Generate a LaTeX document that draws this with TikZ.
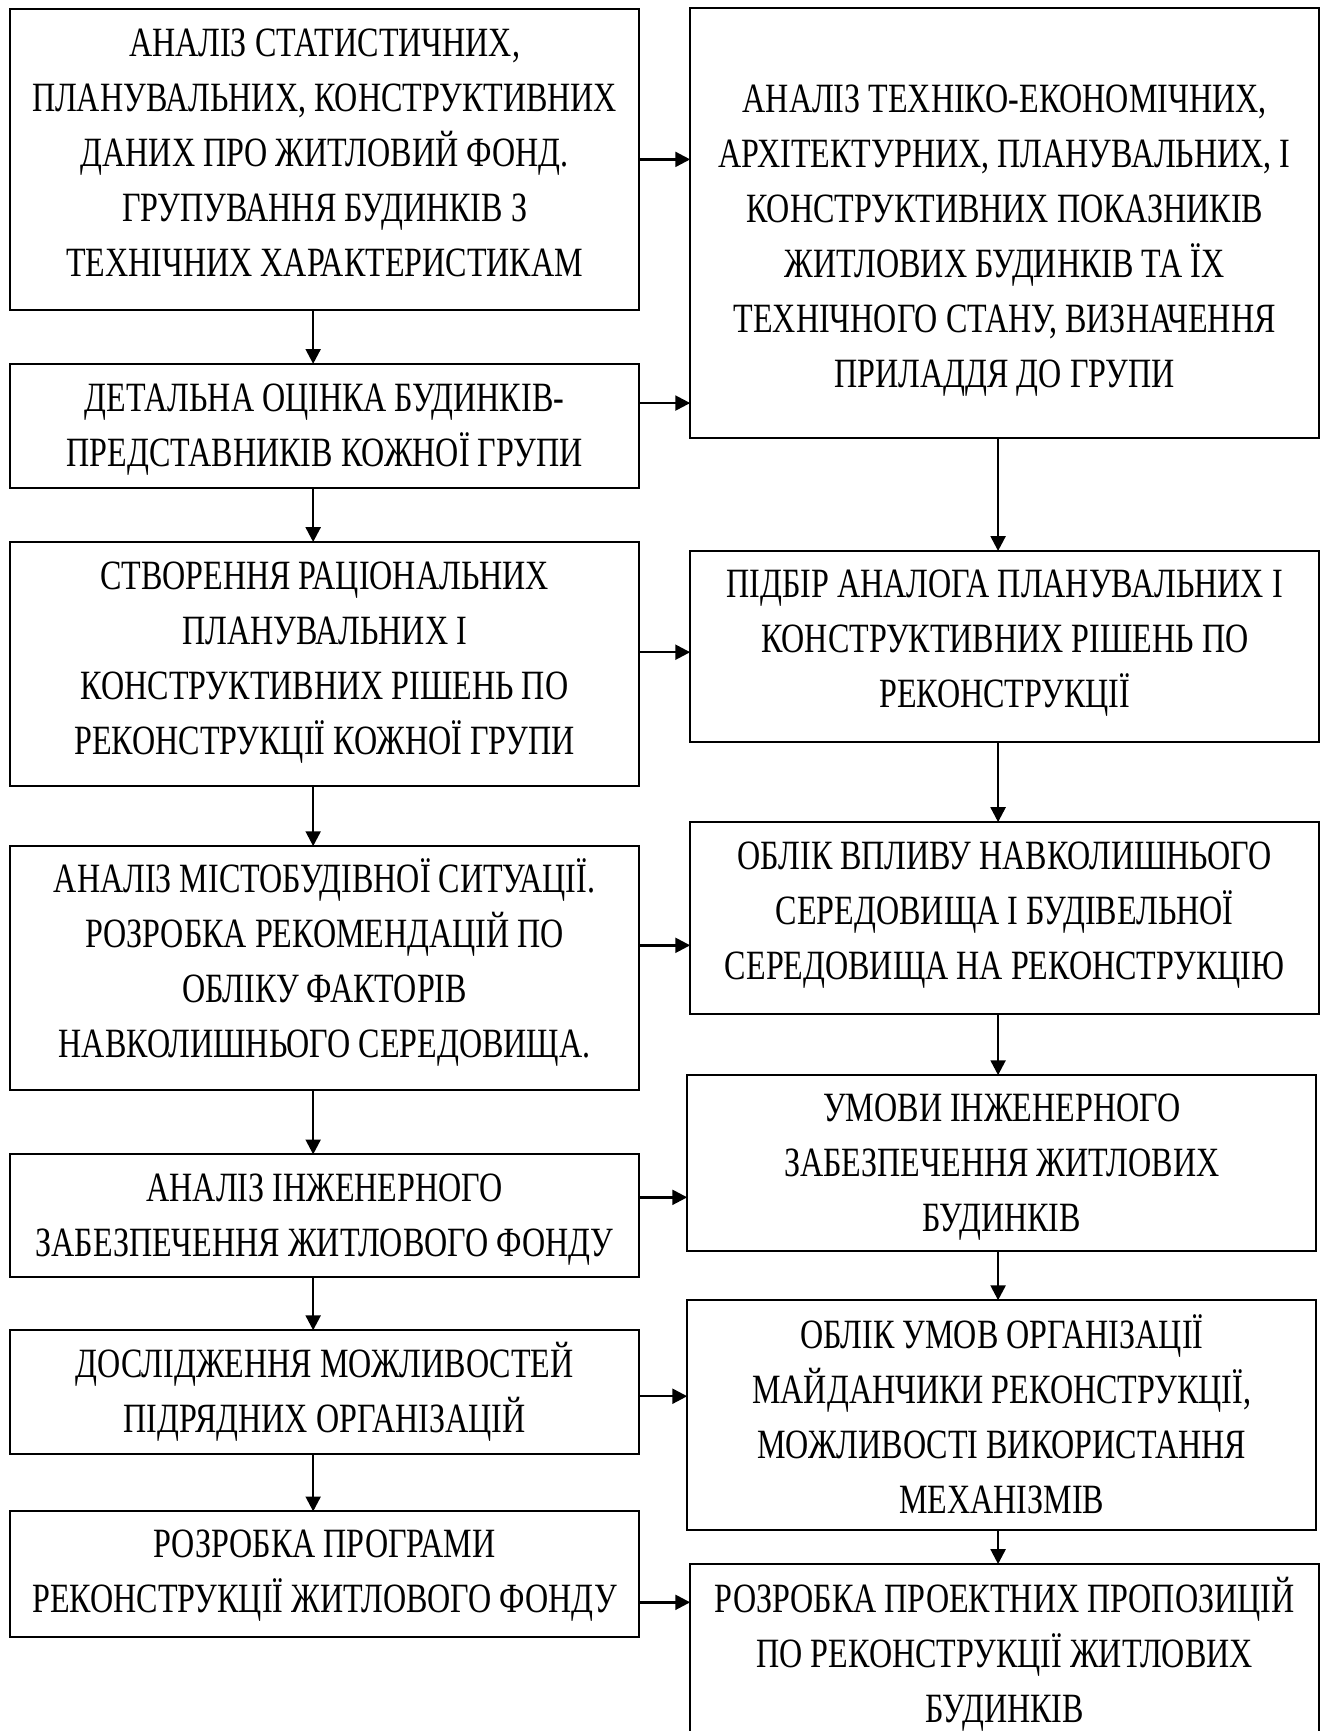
\documentclass[tikz,border=0pt]{standalone}
\usepackage{fontspec}
\setmainfont{Liberation Serif}[FakeStretch=0.77]
\usetikzlibrary{arrows.meta, positioning}
\newcommand\boxlift{0pt}
\newcommand\boxsink{0pt}

\begin{document}
\begin{tikzpicture}[node distance=24pt, >={Triangle[length=6.5pt,width=6.5pt]}]
    \tikzstyle{block} = [draw, line width=0.8pt, rectangle, text width=270pt, inner xsep=2.35pt, inner ysep=0pt, outer sep=0pt, align=flush center, font=\fontsize{18.2}{24}\selectfont, execute at begin node={\spaceskip=3.5pt\relax\rule[-7.2pt]{0pt}{\dimexpr24pt+\boxsink\relax}}, execute at end node={\strut\endgraf\vspace*{\boxlift}}]
    \tikzstyle{link} = [->, line width=1.1pt]
    \tikzset{lift/.code={\def\boxlift{#1}}, sink/.code={\def\boxsink{#1}}}

    \useasboundingbox (0,0) rectangle (579.9pt,-755.9pt);

    \node [block, anchor=north west, minimum height=131.4pt, lift=3.2pt] (l1) at (4.4pt,-3.9pt) {АНАЛІЗ СТАТИСТИЧНИХ,\\ ПЛАНУВАЛЬНИХ, КОНСТРУКТИВНИХ\\ ДАНИХ ПРО ЖИТЛОВИЙ ФОНД.\\ ГРУПУВАННЯ БУДИНКІВ З\\ ТЕХНІЧНИХ ХАРАКТЕРИСТИКАМ};
    \node [block, below=23.6pt of l1, minimum height=54.2pt, sink=2.2pt] (l2) {ДЕТАЛЬНА ОЦІНКА БУДИНКІВ-\\ ПРЕДСТАВНИКІВ КОЖНОЇ ГРУПИ};
    \node [block, below=23.6pt of l2, minimum height=106.6pt, lift=2.4pt] (l3) {СТВОРЕННЯ РАЦІОНАЛЬНИХ\\ ПЛАНУВАЛЬНИХ І\\ КОНСТРУКТИВНИХ РІШЕНЬ ПО\\ РЕКОНСТРУКЦІЇ КОЖНОЇ ГРУПИ};
    \node [block, below=26.2pt of l3, minimum height=106.6pt, lift=3.4pt] (l4) {АНАЛІЗ МІСТОБУДІВНОЇ СИТУАЦІЇ.\\ РОЗРОБКА РЕКОМЕНДАЦІЙ ПО\\ ОБЛІКУ ФАКТОРІВ\\ НАВКОЛИШНЬОГО СЕРЕДОВИЩА.};
    \node [block, below=28pt of l4, minimum height=53.7pt, sink=1.6pt] (l5) {АНАЛІЗ ІНЖЕНЕРНОГО\\ ЗАБЕЗПЕЧЕННЯ ЖИТЛОВОГО ФОНДУ};
    \node [block, below=23.1pt of l5, minimum height=54.2pt, sink=1.3pt] (l6) {ДОСЛІДЖЕННЯ МОЖЛИВОСТЕЙ\\ ПІДРЯДНИХ ОРГАНІЗАЦІЙ};
    \node [block, below=24.9pt of l6, minimum height=55pt, lift=0.5pt] (l7) {РОЗРОБКА ПРОГРАМИ\\ РЕКОНСТРУКЦІЇ ЖИТЛОВОГО ФОНДУ};

    \node [block, anchor=north west, minimum height=187.8pt, sink=13.7pt] (r1) at ([xshift=22.3pt, yshift=0.4pt]l1.north east) {АНАЛІЗ ТЕХНІКО-ЕКОНОМІЧНИХ,\\ АРХІТЕКТУРНИХ, ПЛАНУВАЛЬНИХ, І\\ КОНСТРУКТИВНИХ ПОКАЗНИКІВ\\ ЖИТЛОВИХ БУДИНКІВ ТА ЇХ\\ ТЕХНІЧНОГО СТАНУ, ВИЗНАЧЕННЯ\\ ПРИЛАДДЯ ДО ГРУПИ};
    \node [block, below=49.3pt of r1, minimum height=83.4pt, lift=4.2pt] (r2) {ПІДБІР АНАЛОГА ПЛАНУВАЛЬНИХ І\\ КОНСТРУКТИВНИХ РІШЕНЬ ПО\\ РЕКОНСТРУКЦІЇ};
    \node [block, below=35pt of r2, minimum height=83.8pt, lift=4.1pt] (r3) {ОБЛІК ВПЛИВУ НАВКОЛИШНЬОГО\\ СЕРЕДОВИЩА І БУДІВЕЛЬНОЇ\\ СЕРЕДОВИЩА НА РЕКОНСТРУКЦІЮ};
    \node [block, below=26.7pt of r3, xshift=-1.3pt, minimum height=76.9pt, sink=2.4pt] (r4) {УМОВИ ІНЖЕНЕРНОГО\\ ЗАБЕЗПЕЧЕННЯ ЖИТЛОВИХ\\ БУДИНКІВ};
    \node [block, below=21.4pt of r4, minimum height=100.4pt, sink=4.1pt] (r5) {ОБЛІК УМОВ ОРГАНІЗАЦІЇ\\ МАЙДАНЧИКИ РЕКОНСТРУКЦІЇ,\\ МОЖЛИВОСТІ ВИКОРИСТАННЯ\\ МЕХАНІЗМІВ};
    \node [block, below=14.8pt of r5, xshift=1.3pt, minimum height=74.6pt, sink=4.3pt] (r6) {РОЗРОБКА ПРОЕКТНИХ ПРОПОЗИЦІЙ\\ ПО РЕКОНСТРУКЦІЇ ЖИТЛОВИХ\\ БУДИНКІВ};

    \draw[link] ([xshift=-5pt]l1.south) -- ([xshift=-5pt]l1.south |- l2.north);
    \draw[link] ([xshift=-5pt]l2.south) -- ([xshift=-5pt]l2.south |- l3.north);
    \draw[link] ([xshift=-5pt]l3.south) -- ([xshift=-5pt]l3.south |- l4.north);
    \draw[link] ([xshift=-5pt]l4.south) -- ([xshift=-5pt]l4.south |- l5.north);
    \draw[link] ([xshift=-5pt]l5.south) -- ([xshift=-5pt]l5.south |- l6.north);
    \draw[link] ([xshift=-5pt]l6.south) -- ([xshift=-5pt]l6.south |- l7.north);

    \draw[link] ([xshift=-2.9pt]r1.south) -- ([xshift=-2.9pt]r1.south |- r2.north);
    \draw[link] ([xshift=-2.9pt]r2.south) -- ([xshift=-2.9pt]r2.south |- r3.north);
    \draw[link] ([xshift=-2.9pt]r3.south) -- ([xshift=-2.9pt]r3.south |- r4.north);
    \draw[link] ([xshift=-1.6pt]r4.south) -- ([xshift=-1.6pt]r4.south |- r5.north);
    \draw[link] ([xshift=-1.6pt]r5.south) -- ([xshift=-1.6pt]r5.south |- r6.north);

    \draw[link] (l1.east) -- (l1.east -| r1.west);
    \draw[link] ([yshift=10pt]l2.east) -- ([yshift=10pt]l2.east -| r1.west);
    \draw[link] ([yshift=5.2pt]l3.east) -- ([yshift=5.2pt]l3.east -| r2.west);
    \draw[link] ([yshift=10pt]l4.east) -- ([yshift=10pt]l4.east -| r3.west);
    \draw[link] ([yshift=8.1pt]l5.east) -- ([yshift=8.1pt]l5.east -| r4.west);
    \draw[link] ([yshift=-1.7pt]l6.east) -- ([yshift=-1.7pt]l6.east -| r5.west);
    \draw[link] ([yshift=-12.2pt]l7.east) -- ([yshift=-12.2pt]l7.east -| r6.west);
\end{tikzpicture}
\end{document}
